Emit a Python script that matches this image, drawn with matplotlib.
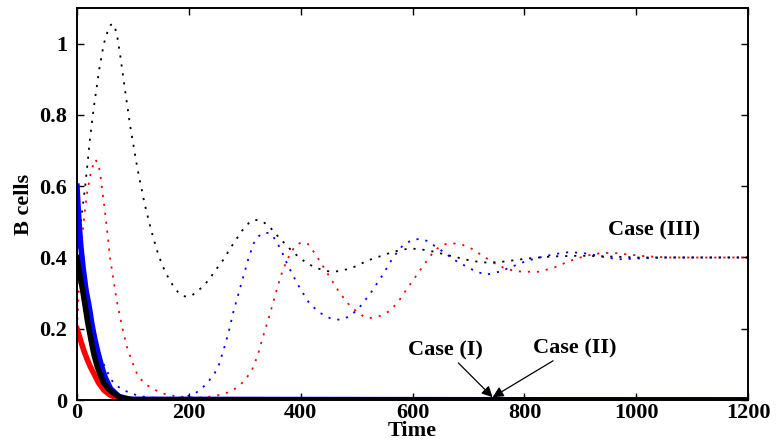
import numpy as np
import matplotlib
matplotlib.use("Agg")
import matplotlib.pyplot as plt
from matplotlib.ticker import FuncFormatter

plt.rcParams['font.family'] = ['Liberation Serif', 'DejaVu Serif']
plt.rcParams['font.weight'] = 'bold'

# solid curves (cases I and II, decay to zero)
t_red_s = [0, 4, 8, 12, 18, 24, 30, 38, 48, 58, 68, 85, 100, 1200]
y_red_s = [0.2, 0.18, 0.16, 0.14, 0.115, 0.093, 0.075, 0.05, 0.028, 0.015, 0.008, 0.002, 0, 0]
t_blue_s = [0, 2, 4, 7, 11, 16, 22, 27, 32, 38, 44, 50, 60, 75, 95, 1200]
y_blue_s = [0.6, 0.54, 0.49, 0.43, 0.37, 0.31, 0.26, 0.21, 0.17, 0.13, 0.095, 0.065, 0.032,
            0.01, 0.002, 0]
t_black_s = [0, 3, 7, 10, 14, 19, 25, 30, 36, 42, 48, 56, 66, 80, 100, 1200]
y_black_s = [0.4, 0.37, 0.335, 0.31, 0.27, 0.22, 0.17, 0.13, 0.095, 0.07, 0.048, 0.032, 0.018,
             0.006, 0.001, 0]

# dotted curves (case III)
t_black_d = [0, 5, 10, 14, 18, 23, 30, 40, 48, 55, 60, 64, 68, 72, 77, 85, 95, 108, 121, 132,
             143, 152, 161, 172, 182, 190, 196, 205, 215, 226, 237, 248, 260, 270, 280, 295,
             309, 318, 324, 333, 345, 356, 368, 380, 390, 400, 410, 422, 435, 446, 457, 470,
             490, 505, 517, 530, 545, 558, 571, 585, 600, 618, 636, 654, 680, 707, 730, 755,
             780, 804, 850, 900, 950, 1000, 1100, 1200]
y_black_d = [0.4, 0.47, 0.54, 0.59, 0.65, 0.73, 0.82, 0.93, 1.0, 1.035, 1.052, 1.056, 1.045,
             1.02, 0.97, 0.88, 0.77, 0.65, 0.55, 0.48, 0.42, 0.38, 0.35, 0.32, 0.30, 0.292,
             0.29, 0.293, 0.305, 0.32, 0.34, 0.365, 0.39, 0.415, 0.44, 0.475, 0.50, 0.505,
             0.505, 0.50, 0.485, 0.465, 0.445, 0.425, 0.41, 0.397, 0.385, 0.375, 0.367, 0.362,
             0.36, 0.362, 0.37, 0.38, 0.39, 0.397, 0.405, 0.412, 0.418, 0.423, 0.425, 0.422,
             0.417, 0.41, 0.40, 0.39, 0.386, 0.387, 0.392, 0.397, 0.403, 0.405, 0.403, 0.40,
             0.40, 0.40]
t_red_d = [0, 3, 6, 10, 14, 18, 25, 32, 38, 42, 45, 50, 55, 59, 65, 71, 80, 89, 98, 107, 116,
           125, 140, 155, 175, 196, 215, 230, 245, 262, 275, 286, 300, 313, 323, 333, 342, 350,
           359, 368, 378, 389, 400, 413, 426, 440, 455, 470, 485, 500, 512, 523, 540, 559, 574,
           589, 607, 625, 637, 648, 660, 672, 690, 705, 720, 745, 768, 795, 827, 855, 880, 910,
           939, 965, 988, 1020, 1060, 1100, 1200]
y_red_d = [0.2, 0.3, 0.38, 0.47, 0.53, 0.58, 0.64, 0.675, 0.665, 0.63, 0.59, 0.53, 0.46, 0.40,
           0.34, 0.28, 0.21, 0.15, 0.11, 0.075, 0.055, 0.042, 0.028, 0.018, 0.011, 0.008,
           0.007, 0.008, 0.011, 0.017, 0.025, 0.035, 0.055, 0.085, 0.125, 0.18, 0.225, 0.27,
           0.32, 0.365, 0.40, 0.43, 0.442, 0.438, 0.41, 0.375, 0.337, 0.30, 0.27, 0.248,
           0.235, 0.23, 0.235, 0.25, 0.275, 0.31, 0.35, 0.39, 0.415, 0.43, 0.438, 0.44, 0.435,
           0.425, 0.41, 0.385, 0.367, 0.36, 0.36, 0.373, 0.39, 0.405, 0.413, 0.412, 0.408,
           0.403, 0.40, 0.40, 0.40]
t_blue_d = [0, 2, 4, 8, 12, 17, 23, 30, 36, 45, 54, 60, 66, 80, 95, 110, 125, 150, 178, 190,
            200, 210, 220, 233, 246, 254, 262, 271, 280, 289, 298, 307, 316, 325, 335, 345, 355,
            365, 375, 386, 400, 416, 434, 452, 470, 488, 505, 525, 546, 565, 583, 600, 613, 625,
            642, 660, 678, 696, 714, 732, 755, 779, 803, 827, 855, 880, 900, 916, 945, 970, 1000,
            1050, 1200]
y_blue_d = [0.6, 0.53, 0.48, 0.40, 0.34, 0.29, 0.25, 0.19, 0.15, 0.11, 0.08, 0.06, 0.047, 0.03,
            0.02, 0.012, 0.008, 0.005, 0.005, 0.008, 0.012, 0.018, 0.028, 0.048, 0.075, 0.1,
            0.14, 0.19, 0.25, 0.30, 0.35, 0.40, 0.44, 0.46, 0.47, 0.468, 0.45, 0.42, 0.385,
            0.35, 0.31, 0.27, 0.245, 0.23, 0.225, 0.235, 0.26, 0.30, 0.35, 0.40, 0.435, 0.45,
            0.452, 0.447, 0.43, 0.41, 0.39, 0.375, 0.36, 0.352, 0.36, 0.375, 0.39, 0.40, 0.41,
            0.415, 0.413, 0.41, 0.40, 0.395, 0.397, 0.40, 0.40]

fig = plt.figure(figsize=(7.76, 4.45), dpi=100)
ax = fig.add_axes([0.0992, 0.101, 0.865, 0.881])

dot = (0, (1.2, 3.8))
ax.plot(t_red_d, y_red_d, color='red', lw=1.3, linestyle=dot)
ax.plot(t_blue_d, y_blue_d, color='blue', lw=1.3, linestyle=dot)
ax.plot(t_black_d, y_black_d, color='black', lw=1.3, linestyle=dot)

ax.plot(t_red_s, y_red_s, color='red', lw=4)
ax.plot(t_blue_s, y_blue_s, color='blue', lw=4)
ax.plot(t_black_s, y_black_s, color='black', lw=4)

ax.set_xlim(0, 1200)
ax.set_ylim(0, 1.1)
ax.set_xticks(np.arange(0, 1201, 200))
ax.set_yticks([0, 0.2, 0.4, 0.6, 0.8, 1.0])
ax.yaxis.set_major_formatter(FuncFormatter(lambda v, p: f"{v:g}"))
ax.tick_params(direction='in', length=5, width=1, top=True, right=True, labelsize=16)
ax.tick_params(axis='x', pad=2)
ax.tick_params(axis='y', pad=7)
for lab in ax.get_xticklabels() + ax.get_yticklabels():
    lab.set_fontweight('bold')
for s in ax.spines.values():
    s.set_linewidth(1.4)

ax.set_xlabel('Time', fontsize=16, fontweight='bold', labelpad=-1)
ax.set_ylabel('B cells', fontsize=16, fontweight='bold', labelpad=4)

ax.text(1032, 0.475, 'Case (III)', fontsize=16, fontweight='bold', ha='center', va='center')
arrow = dict(arrowstyle='-|>', color='black', lw=0.9, mutation_scale=16, shrinkA=0, shrinkB=0)
ax.annotate('Case (I)', xy=(743, 0.008), xytext=(659, 0.14), fontsize=16, fontweight='bold',
            ha='center', va='center', arrowprops=arrow)
ax.annotate('Case (II)', xy=(743, 0.008), xytext=(889, 0.146), fontsize=16, fontweight='bold',
            ha='center', va='center', arrowprops=arrow)

fig.savefig('out.png', dpi=100)
